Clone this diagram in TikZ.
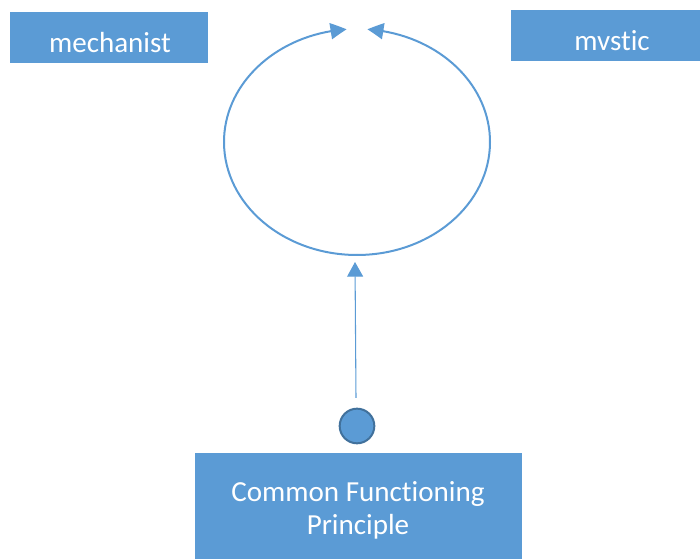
\documentclass[tikz,border=0pt]{standalone}
\usepackage{fontspec}
\setmainfont{Carlito}[Ligatures=NoCommon]
\usetikzlibrary{arrows.meta,bending}
\definecolor{accent}{HTML}{5B9BD5}
\definecolor{accentdark}{HTML}{41719C}
\begin{document}
\begin{tikzpicture}[x=0.75pt,y=0.75pt,
  box/.style={rectangle,fill=accent,inner sep=0pt},
  label/.style={text=white,inner sep=0pt,font=\fontsize{21.8}{25}\selectfont,align=center},
  loop/.style={draw=accent,line width=1.5pt,-{Triangle[length=12pt,width=12pt,bend]}},
  link/.style={draw=accent,line width=0.8pt,-{Triangle[length=11pt,width=12pt]}}]
\useasboundingbox (0,0) rectangle (700,559);
% boxes
\node[box,minimum width=148.5pt,minimum height=38.5pt] (mech) at (109,521.5) {};
\node[label] (mecht) at (110,516) {mechanist};
\node[box,minimum width=141.75pt,minimum height=38.25pt] (myst) at (605.5,523.5) {};
\node[label] (mystt) at (612,518) {mvstic};
\node[box,minimum width=245.25pt,minimum height=79.5pt] (cfp) at (358.5,53) {};
\node[label] (cfpt) at (358,48.5) {Common Functioning\\Principle};
% loop
\coordinate (bot) at (357,304);
\draw[loop] (bot) arc[start angle=270,end angle=94.5,x radius=133,y radius=113];
\draw[loop] (bot) arc[start angle=270,end angle=445.5,x radius=133,y radius=113];
% dot and link
\node[circle,fill=accent,draw=accentdark,line width=1.5pt,minimum size=26pt,inner sep=0pt] (dot) at (357,133) {};
\coordinate (start) at (356,161);
\coordinate (end) at (355,297);
\draw[link] (start) -- (end);
\end{tikzpicture}
\end{document}
